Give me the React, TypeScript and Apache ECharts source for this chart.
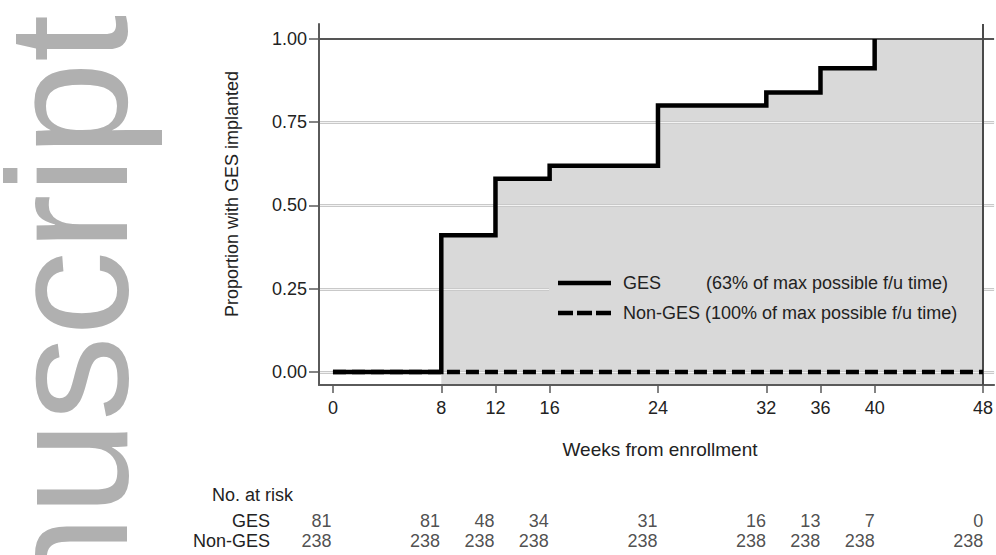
import React, { useEffect, useRef } from "react";
import * as echarts from "echarts";

// ---- data ----
const seriesNames = ["GES", "Non-GES"];
const seriesNotes = ["(63% of max possible f/u time)", "(100% of max possible f/u time)"];
const gesWeeks = [0, 8, 12, 16, 24, 32, 36, 40];
const gesProp = [0, 0.411, 0.58, 0.619, 0.8, 0.839, 0.912, 1.0];
const nonGesWeeks = [0, 48];
const nonGesProp = [0, 0];
const followUpEnd = 48;
const xTicks = [0, 8, 12, 16, 24, 32, 36, 40, 48];
const yTicks = [0, 0.25, 0.5, 0.75, 1.0];
const riskWeeks = [0, 8, 12, 16, 24, 32, 36, 40, 48];
const gesRisk = [81, 81, 48, 34, 31, 16, 13, 7, 0];
const nonGesRisk = [238, 238, 238, 238, 238, 238, 238, 238, 238];
const yTitle = "Proportion with GES implanted";
const xTitle = "Weeks from enrollment";
const riskTitle = "No. at risk";
const watermark = "nuscript";

const FONT = "Liberation Sans";
const TXT = "#222222";
const AXIS = "#5a5a5a";
const FILL = "#d9d9d9";

export default function App() {
  const ref = useRef<HTMLDivElement>(null);
  useEffect(() => {
    document.body.style.margin = "0";
    if (!ref.current) return;
    const chart = echarts.init(ref.current, null, { renderer: "svg" });

    const gesData = gesWeeks.map((w, i) => [w, gesProp[i]]);
    const fillData = gesData.filter((d) => d[1] > 0);
    fillData.push([followUpEnd, gesProp[gesProp.length - 1]]);
    const nonGesData = nonGesWeeks.map((w, i) => [w, nonGesProp[i]]);

    const gridItems: any[] = [];
    yTicks.forEach((v) => {
      if (v < 1) {
        gridItems.push({ yAxis: v, lineStyle: { color: "#c9c9c9", width: 3, type: "solid" } });
        gridItems.push({ yAxis: v, lineStyle: { color: "#f3f3f3", width: 1, type: "solid" } });
      }
    });

    const riskLabel = {
      show: true,
      position: "left",
      distance: 1,
      fontSize: 18,
      fontFamily: FONT,
      color: TXT,
      formatter: (p: any) => String(p.value[2]),
    };

    const option: any = {
      animation: false,
      textStyle: { fontFamily: FONT },
      grid: [
        { left: 319, right: 0, top: 24, bottom: 170 },
        { left: 319, right: 0, top: 511, height: 40 },
      ],
      xAxis: [
        {
          type: "value",
          gridIndex: 0,
          min: -1.031,
          max: 48.82,
          z: 3,
          axisLine: { show: true, onZero: false, lineStyle: { color: AXIS, width: 2 } },
          axisTick: { show: true, customValues: xTicks, length: 8, lineStyle: { color: AXIS, width: 1.5 } },
          axisLabel: { customValues: xTicks, color: TXT, fontSize: 18, fontFamily: FONT, margin: 14 },
          splitLine: { show: false },
        },
        { type: "value", gridIndex: 1, min: -1.031, max: 48.82, show: false },
      ],
      yAxis: [
        {
          type: "value",
          gridIndex: 0,
          min: -0.039,
          max: 1.045,
          z: 3,
          axisLine: { show: true, onZero: false, lineStyle: { color: AXIS, width: 2 } },
          axisTick: { show: true, customValues: yTicks, length: 10, lineStyle: { color: AXIS, width: 1.5 } },
          axisLabel: {
            customValues: yTicks,
            color: TXT,
            fontSize: 18,
            fontFamily: FONT,
            margin: 12,
            formatter: (v: number) => v.toFixed(2),
          },
          splitLine: { show: false },
        },
        {
          type: "category",
          gridIndex: 1,
          data: seriesNames,
          inverse: true,
          axisLine: { show: false },
          axisTick: { show: false },
          splitLine: { show: false },
          axisLabel: { interval: 0, hideOverlap: false, margin: 49, fontSize: 18, fontFamily: FONT, color: TXT },
        },
      ],
      series: [
        {
          type: "line",
          name: "fill",
          step: "end",
          data: fillData,
          showSymbol: false,
          z: 1,
          lineStyle: { width: 0, opacity: 0 },
          areaStyle: { color: FILL, opacity: 1, origin: "start" },
          silent: true,
          markLine: {
            z: 2,
            symbol: "none",
            silent: true,
            label: { show: false },
            data: gridItems,
          },
        },
        {
          type: "line",
          name: seriesNames[1],
          data: nonGesData,
          showSymbol: false,
          z: 4,
          lineStyle: { color: "#000", width: 4.5, type: [13, 6] },
          markLine: {
            z: 4,
            symbol: "none",
            silent: true,
            label: { show: false },
            data: [
              { yAxis: 1.0, lineStyle: { color: "#555555", width: 2.2, type: "solid" } },
              { xAxis: followUpEnd, lineStyle: { color: "#4a4a4a", width: 2, type: "solid" } },
            ],
          },
        },
        {
          type: "line",
          name: seriesNames[0],
          step: "end",
          data: gesData,
          showSymbol: false,
          z: 5,
          lineStyle: { color: "#000", width: 4.5, join: "miter" },
        },
        {
          type: "scatter",
          xAxisIndex: 1,
          yAxisIndex: 1,
          symbolSize: 1,
          itemStyle: { color: "rgba(0,0,0,0)" },
          data: riskWeeks.map((w, i) => [w, seriesNames[0], gesRisk[i]]),
          label: riskLabel,
          silent: true,
        },
        {
          type: "scatter",
          xAxisIndex: 1,
          yAxisIndex: 1,
          symbolSize: 1,
          itemStyle: { color: "rgba(0,0,0,0)" },
          data: riskWeeks.map((w, i) => [w, seriesNames[1], nonGesRisk[i]]),
          label: riskLabel,
          silent: true,
        },
      ],
      graphic: [
        {
          type: "text",
          x: 68,
          y: 610,
          rotation: Math.PI / 2,
          z: 0,
          silent: true,
          style: { text: watermark, fontSize: 170, fontFamily: FONT, fill: "#b0b0b0", align: "left", verticalAlign: "middle" },
        },
        {
          type: "rect",
          z: 3,
          silent: true,
          shape: { x: 549, y: 258, width: 435, height: 84 },
          style: { fill: FILL },
        },
        {
          type: "line",
          z: 6,
          shape: { x1: 558, y1: 283, x2: 611, y2: 283 },
          style: { stroke: "#000", lineWidth: 4.5 },
        },
        {
          type: "line",
          z: 6,
          shape: { x1: 558, y1: 313, x2: 611, y2: 313 },
          style: { stroke: "#000", lineWidth: 4.5, lineDash: [15, 4] },
        },
        {
          type: "text",
          z: 6,
          x: 623,
          y: 283,
          style: { text: seriesNames[0], fontSize: 18, fontFamily: FONT, fill: TXT, align: "left", verticalAlign: "middle" },
        },
        {
          type: "text",
          z: 6,
          x: 706,
          y: 283,
          style: { text: seriesNotes[0], fontSize: 18, fontFamily: FONT, fill: TXT, align: "left", verticalAlign: "middle" },
        },
        {
          type: "text",
          z: 6,
          x: 623,
          y: 313,
          style: {
            text: seriesNames[1] + " " + seriesNotes[1],
            fontSize: 18,
            fontFamily: FONT,
            fill: TXT,
            align: "left",
            verticalAlign: "middle",
          },
        },
        {
          type: "text",
          x: 232,
          y: 194,
          rotation: Math.PI / 2,
          style: { text: yTitle, fontSize: 18, fontFamily: FONT, fill: TXT, align: "center", verticalAlign: "middle" },
        },
        {
          type: "text",
          x: 660,
          y: 449,
          style: { text: xTitle, fontSize: 19, fontFamily: FONT, fill: TXT, align: "center", verticalAlign: "middle" },
        },
        {
          type: "text",
          x: 212,
          y: 495,
          style: { text: riskTitle, fontSize: 18, fontFamily: FONT, fill: TXT, align: "left", verticalAlign: "middle" },
        },
      ],
    };

    chart.setOption(option);
    return () => chart.dispose();
  }, []);

  return <div ref={ref} style={{ width: 996, height: 555 }} />;
}
